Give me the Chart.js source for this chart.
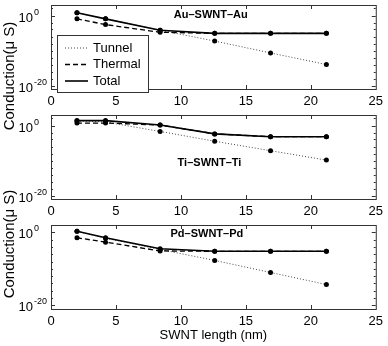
<!DOCTYPE html>
<html>
<head>
<meta charset="utf-8">
<script src="https://cdn.jsdelivr.net/npm/chart.js@4.4.1/dist/chart.umd.min.js"></script>
<style>
  html, body { margin: 0; padding: 0; background: #fff; }
  #wrap { position: relative; width: 388px; height: 346px; overflow: hidden; }
  canvas { position: absolute; left: 0; }
  .ylab {
    position: absolute;
    font: 15px "Liberation Sans", Arial, sans-serif;
    white-space: nowrap;
    transform: translate(-50%, -50%) rotate(-90deg);
  }
</style>
</head>
<body>
<div id="wrap">
  <canvas id="p0" width="388" height="110" style="top:0"></canvas>
  <canvas id="p1" width="388" height="110" style="top:110px"></canvas>
  <canvas id="p2" width="388" height="126" style="top:220px"></canvas>
  <div class="ylab" style="left:8px;top:76px">Conduction(μ S)</div>
  <div class="ylab" style="left:8px;top:244px">Conduction(μ S)</div>
</div>
<script>
const FONT = '"Liberation Sans", Arial, sans-serif';

// data
const lengths = [2.0, 4.2, 8.4, 12.6, 16.9, 21.2];
const xTicks = [0, 5, 10, 15, 20, 25];
const yLabelTicks = [1, 1e-20];
const yMinorTicks = [1e2, 1, 1e-2, 1e-4, 1e-6, 1e-8, 1e-10, 1e-12, 1e-14, 1e-16, 1e-18, 1e-20];
const seriesNames = ["Tunnel", "Thermal", "Total"];
const panelNames = ["Au–SWNT–Au", "Ti–SWNT–Ti", "Pd–SWNT–Pd"];

const auTunnel = [5.9, 1.1e-1, 6.3e-5, 5.0e-8, 2.0e-11, 1.0e-14];
const auThermal = [1.1e-1, 2.5e-3, 1.6e-5, 7.9e-6, 7.9e-6, 7.9e-6];
const auTotal = [5.9, 1.1e-1, 6.3e-5, 7.9e-6, 7.9e-6, 7.9e-6];

const tiTunnel = [20, 10, 2.0e-2, 3.2e-5, 6.3e-8, 1.3e-10];
const tiThermal = [5.0, 5.0, 1.4, 4.0e-3, 6.3e-4, 6.3e-4];
const tiTotal = [25, 25, 1.4, 4.0e-3, 6.3e-4, 6.3e-4];

const pdTunnel = [2.0, 2.5e-2, 2.0e-5, 2.0e-8, 1.0e-11, 5.0e-15];
const pdThermal = [3.2e-2, 2.0e-3, 7.9e-6, 6.3e-6, 6.3e-6, 6.3e-6];
const pdTotal = [2.0, 3.2e-2, 3.2e-5, 6.3e-6, 6.3e-6, 6.3e-6];

const panelSeries = [
  [auTunnel, auThermal, auTotal],
  [tiTunnel, tiThermal, tiTotal],
  [pdTunnel, pdThermal, pdTotal],
];

// axis ranges and label spots
const yMins = [1e-21, 1e-21, 1e-21];
const yMaxs = [1e3, 1e3, 1e2];
const nameX = [12.3, 12.2, 12.0];
const nameY = [1.5, 2e-11, 0.35];

const seriesStyles = [
  { borderColor: "#444", borderWidth: 1, borderDash: [1, 2], order: 3 },
  { borderColor: "#000", borderWidth: 1.3, borderDash: [5, 3], order: 2 },
  { borderColor: "#000", borderWidth: 1.6, borderDash: [], order: 1 },
];

// frame with inward ticks, y labels and panel name
const framePlugin = {
  id: "frame",
  afterDatasetsDraw(chart, args, opts) {
    const { ctx, chartArea: a, scales: { x, y } } = chart;
    ctx.save();
    ctx.strokeStyle = "#333";
    ctx.lineWidth = 1;
    ctx.strokeRect(a.left + 0.5, a.top + 0.5, a.right - a.left, a.bottom - a.top);
    ctx.beginPath();
    xTicks.slice(1, -1).forEach((v) => {
      const px = Math.round(x.getPixelForValue(v)) + 0.5;
      ctx.moveTo(px, a.bottom); ctx.lineTo(px, a.bottom - 4);
      ctx.moveTo(px, a.top); ctx.lineTo(px, a.top + 4);
    });
    yMinorTicks.forEach((v) => {
      const py = Math.round(y.getPixelForValue(v)) + 0.5;
      if (py <= a.top + 1 || py >= a.bottom - 1) return;
      const len = yLabelTicks.includes(v) ? 4 : 2;
      ctx.moveTo(a.left, py); ctx.lineTo(a.left + len, py);
      ctx.moveTo(a.right, py); ctx.lineTo(a.right - len, py);
    });
    ctx.stroke();

    ctx.fillStyle = "#000";
    ctx.textBaseline = "alphabetic";
    yLabelTicks.forEach((v) => {
      const py = y.getPixelForValue(v);
      ctx.font = "13px " + FONT;
      ctx.textAlign = "right";
      ctx.fillText("10", 33, py + 6);
      ctx.font = "9px " + FONT;
      ctx.textAlign = "left";
      ctx.fillText(String(Math.round(Math.log10(v))), 34, py - 1);
    });

    ctx.font = "bold 11px " + FONT;
    ctx.textAlign = "center";
    ctx.textBaseline = "middle";
    ctx.fillText(opts.name, x.getPixelForValue(opts.nx), y.getPixelForValue(opts.ny));
    ctx.restore();
  },
};

// boxed legend, only on the first panel
const boxLegendPlugin = {
  id: "boxLegend",
  afterDraw(chart, args, opts) {
    if (!opts.show) return;
    const ctx = chart.ctx;
    const bx = 57.5, by = 35.5, bw = 91, bh = 57;
    ctx.save();
    ctx.fillStyle = "#fff";
    ctx.fillRect(bx, by, bw, bh);
    ctx.strokeStyle = "#333";
    ctx.lineWidth = 1;
    ctx.strokeRect(bx, by, bw, bh);
    chart.data.datasets.forEach((ds, i) => {
      const ly = by + 12.5 + i * 16.5;
      ctx.strokeStyle = ds.borderColor;
      ctx.lineWidth = ds.borderWidth;
      ctx.setLineDash(ds.borderDash);
      ctx.beginPath();
      ctx.moveTo(65, ly);
      ctx.lineTo(88, ly);
      ctx.stroke();
      ctx.setLineDash([]);
      ctx.fillStyle = "#000";
      ctx.font = "13px " + FONT;
      ctx.textAlign = "left";
      ctx.textBaseline = "middle";
      ctx.fillText(ds.label, 93, ly);
    });
    ctx.restore();
  },
};

panelSeries.forEach((series, p) => {
  const last = p === panelSeries.length - 1;
  const ctx = document.getElementById("p" + p).getContext("2d");
  new Chart(ctx, {
    type: "line",
    data: {
      datasets: series.map((vals, s) => ({
        label: seriesNames[s],
        data: lengths.map((x, k) => ({ x: x, y: vals[k] })),
        borderColor: seriesStyles[s].borderColor,
        borderWidth: seriesStyles[s].borderWidth,
        borderDash: seriesStyles[s].borderDash,
        order: seriesStyles[s].order,
        pointRadius: 2.5,
        pointBackgroundColor: "#000",
        pointBorderWidth: 0,
        tension: 0,
        fill: false,
      })),
    },
    options: {
      responsive: false,
      animation: false,
      devicePixelRatio: 1,
      layout: { padding: { left: 51, right: 10, top: 5, bottom: 0 } },
      scales: {
        x: {
          type: "linear",
          min: 0,
          max: 25,
          afterBuildTicks: (axis) => { axis.ticks = xTicks.map((v) => ({ value: v })); },
          afterFit: (s) => { s.height = last ? 37 : 21; },
          grid: { display: false, drawTicks: false },
          border: { display: false },
          ticks: {
            autoSkip: false,
            maxRotation: 0,
            padding: 5,
            color: "#000",
            font: { family: FONT, size: 13 },
          },
          title: {
            display: last,
            text: "SWNT length (nm)",
            color: "#000",
            font: { family: FONT, size: 13 },
            padding: { top: 0, bottom: 3 },
          },
        },
        y: {
          type: "logarithmic",
          min: yMins[p],
          max: yMaxs[p],
          display: false,
        },
      },
      plugins: {
        legend: { display: false },
        tooltip: { enabled: false },
        frame: { name: panelNames[p], nx: nameX[p], ny: nameY[p] },
        boxLegend: { show: p === 0 },
      },
    },
    plugins: [framePlugin, boxLegendPlugin],
  });
});
</script>
</body>
</html>
